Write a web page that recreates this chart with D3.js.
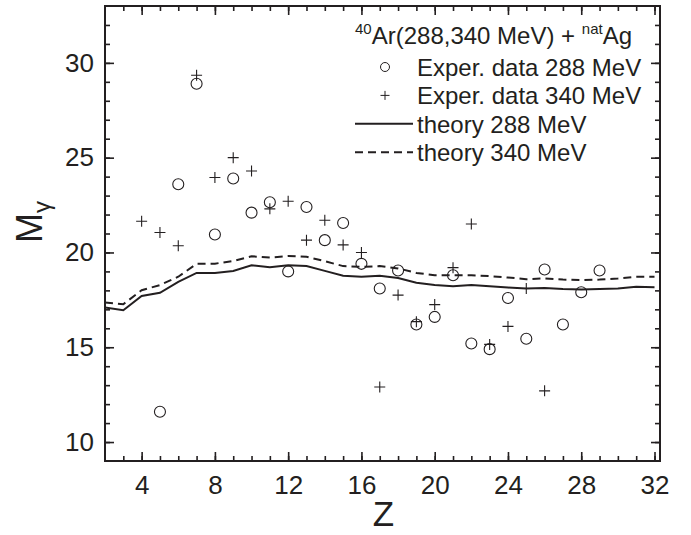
<!DOCTYPE html>
<html>
<head>
<meta charset="utf-8">
<script src="https://cdn.jsdelivr.net/npm/d3@7"></script>
<style>
  html, body { margin: 0; padding: 0; background: #fff; }
  svg { display: block; font-family: Arial, "Liberation Sans", sans-serif; }
</style>
</head>
<body>
<div id="chart"></div>
<script>
// experimental data, 288 MeV (circles)
const z288 = [5, 6, 7, 8, 9, 10, 11, 12, 13, 14, 15, 16, 17, 18, 19, 20, 21, 22, 23, 24, 25, 26, 27, 28, 29];
const m288 = [11.6, 23.6, 28.9, 20.95, 23.9, 22.1, 22.65, 19.0, 22.4, 20.65, 21.55, 19.4, 18.1, 19.05, 16.2, 16.6, 18.8, 15.2, 14.9, 17.6, 15.45, 19.1, 16.2, 17.9, 19.05];

// experimental data, 340 MeV (crosses)
const z340 = [4, 5, 6, 7, 8, 9, 10, 11, 12, 13, 14, 15, 16, 17, 18, 19, 20, 21, 22, 23, 24, 25, 26];
const m340 = [21.65, 21.05, 20.35, 29.35, 23.95, 25.0, 24.3, 22.3, 22.7, 20.65, 21.7, 20.4, 20.0, 12.9, 17.75, 16.35, 17.25, 19.2, 21.5, 15.15, 16.1, 18.1, 12.7];

// theory curves
const zTheory = [2, 3, 4, 5, 6, 7, 8, 9, 10, 11, 12, 13, 14, 15, 16, 17, 18, 19, 20, 21, 22, 23, 24, 25, 26, 27, 28, 29, 30, 31, 32];
const theory288 = [17.1, 16.95, 17.7, 17.87, 18.45, 18.92, 18.92, 19.02, 19.32, 19.22, 19.33, 19.28, 19.03, 18.77, 18.72, 18.77, 18.65, 18.4, 18.28, 18.22, 18.28, 18.22, 18.15, 18.1, 18.13, 18.07, 18.05, 18.07, 18.1, 18.19, 18.16];
const theory340 = [17.36, 17.27, 18.01, 18.28, 18.72, 19.4, 19.41, 19.55, 19.8, 19.73, 19.81, 19.77, 19.54, 19.28, 19.24, 19.28, 19.16, 18.92, 18.8, 18.8, 18.8, 18.75, 18.68, 18.59, 18.63, 18.57, 18.54, 18.57, 18.63, 18.72, 18.72];

const xTicks = [4, 8, 12, 16, 20, 24, 28, 32];
const yTicks = [10, 15, 20, 25, 30];

const width = 691, height = 535;
const margin = { left: 105, right: 31, top: 6, bottom: 74 };
const ink = "#231f20";

const svg = d3.select("#chart")
    .append("svg")
    .attr("width", width)
    .attr("height", height);

const x = d3.scaleLinear().domain([2, 32.3]).range([margin.left, width - margin.right]);
const y = d3.scaleLinear().domain([9, 33]).range([height - margin.bottom, margin.top]);

// clip for the curves
svg.append("clipPath").attr("id", "plotClip")
  .append("rect")
    .attr("x", x.range()[0]).attr("y", y.range()[1])
    .attr("width", x.range()[1] - x.range()[0])
    .attr("height", y.range()[0] - y.range()[1]);

// axes: ticks point inward on all four sides
const xMinor = d3.range(3, 33, 1);
const yMinor = d3.range(10, 33, 1);

function styleAxis(g) {
    g.select(".domain").remove();
    g.selectAll(".tick line").attr("stroke", ink).attr("stroke-width", 1.6);
    g.selectAll("text").attr("fill", ink).style("font-size", "26px");
}

// minor ticks
svg.append("g").attr("transform", `translate(0,${y.range()[0]})`)
    .call(d3.axisBottom(x).tickValues(xMinor).tickSize(-5).tickFormat(""))
    .call(styleAxis);
svg.append("g").attr("transform", `translate(0,${y.range()[1]})`)
    .call(d3.axisTop(x).tickValues(xMinor).tickSize(-5).tickFormat(""))
    .call(styleAxis);
svg.append("g").attr("transform", `translate(${x.range()[0]},0)`)
    .call(d3.axisLeft(y).tickValues(yMinor).tickSize(-5).tickFormat(""))
    .call(styleAxis);
svg.append("g").attr("transform", `translate(${x.range()[1]},0)`)
    .call(d3.axisRight(y).tickValues(yMinor).tickSize(-5).tickFormat(""))
    .call(styleAxis);

// major ticks with labels
svg.append("g").attr("transform", `translate(0,${y.range()[0]})`)
    .call(d3.axisBottom(x).tickValues(xTicks).tickSize(-9).tickPadding(15).tickFormat(d3.format("d")))
    .call(styleAxis);
svg.append("g").attr("transform", `translate(0,${y.range()[1]})`)
    .call(d3.axisTop(x).tickValues(xTicks).tickSize(-9).tickFormat(""))
    .call(styleAxis);
svg.append("g").attr("transform", `translate(${x.range()[0]},0)`)
    .call(d3.axisLeft(y).tickValues(yTicks).tickSize(-9).tickPadding(11).tickFormat(d3.format("d")))
    .call(styleAxis);
svg.append("g").attr("transform", `translate(${x.range()[1]},0)`)
    .call(d3.axisRight(y).tickValues(yTicks).tickSize(-9).tickFormat(""))
    .call(styleAxis);

// frame
svg.append("rect")
    .attr("x", x.range()[0]).attr("y", y.range()[1])
    .attr("width", x.range()[1] - x.range()[0])
    .attr("height", y.range()[0] - y.range()[1])
    .attr("fill", "none")
    .attr("stroke", ink)
    .attr("stroke-width", 2);

// theory curves
const line = d3.line().x(d => x(d[0])).y(d => y(d[1]));

svg.append("path")
    .datum(d3.zip(zTheory, theory288))
    .attr("clip-path", "url(#plotClip)")
    .attr("d", line)
    .attr("fill", "none")
    .attr("stroke", ink)
    .attr("stroke-width", 2);

svg.append("path")
    .datum(d3.zip(zTheory, theory340))
    .attr("clip-path", "url(#plotClip)")
    .attr("d", line)
    .attr("fill", "none")
    .attr("stroke", ink)
    .attr("stroke-width", 2)
    .attr("stroke-dasharray", "8,5");

// experimental points
svg.append("g")
    .selectAll("circle")
    .data(d3.zip(z288, m288))
    .join("circle")
    .attr("cx", d => x(d[0]))
    .attr("cy", d => y(d[1]))
    .attr("r", 5.5)
    .attr("fill", "none")
    .attr("stroke", ink)
    .attr("stroke-width", 1.1);

function plusPath(h) {
    return `M${-h},0H${h}M0,${-h}V${h}`;
}

svg.append("g")
    .selectAll("path")
    .data(d3.zip(z340, m340))
    .join("path")
    .attr("transform", d => `translate(${x(d[0])},${y(d[1])})`)
    .attr("d", plusPath(5.5))
    .attr("fill", "none")
    .attr("stroke", ink)
    .attr("stroke-width", 1.1);

// axis titles
svg.append("text")
    .attr("x", x(17.2))
    .attr("y", 526)
    .attr("text-anchor", "middle")
    .attr("fill", ink)
    .style("font-size", "35px")
    .text("Z");

const yTitle = svg.append("text")
    .attr("transform", "translate(42,222) rotate(-90)")
    .attr("text-anchor", "middle")
    .attr("fill", ink)
    .style("font-size", "36px");
yTitle.append("tspan").text("M");
yTitle.append("tspan").attr("dy", 8).style("font-size", "24px").text("γ");

// legend
const legend = svg.append("g").attr("fill", ink);

const title = legend.append("text")
    .attr("x", 355)
    .attr("y", 44)
    .style("font-size", "24px");
title.append("tspan").attr("dy", -10).style("font-size", "15px").text("40");
title.append("tspan").attr("dy", 10).text("Ar(288,340 MeV) + ");
title.append("tspan").attr("dy", -10).style("font-size", "15px").text("nat");
title.append("tspan").attr("dy", 10).text("Ag");

const legendRows = [
    { label: "Exper. data 288 MeV", type: "circle" },
    { label: "Exper. data 340 MeV", type: "cross" },
    { label: "theory 288 MeV", type: "solid" },
    { label: "theory 340 MeV", type: "dashed" }
];

const row = legend.selectAll("g.row")
    .data(legendRows)
    .join("g")
    .attr("class", "row")
    .attr("transform", (d, i) => `translate(0,${67 + i * 28.4})`);

row.filter(d => d.type === "circle")
    .append("circle")
    .attr("cx", 385).attr("cy", 0).attr("r", 4.5)
    .attr("fill", "none").attr("stroke", ink).attr("stroke-width", 1);

row.filter(d => d.type === "cross")
    .append("path")
    .attr("transform", "translate(385,0)")
    .attr("d", plusPath(4.5))
    .attr("fill", "none").attr("stroke", ink).attr("stroke-width", 1);

row.filter(d => d.type === "solid" || d.type === "dashed")
    .append("line")
    .attr("x1", 355).attr("x2", 413).attr("y1", 0).attr("y2", 0)
    .attr("stroke", ink).attr("stroke-width", 2)
    .attr("stroke-dasharray", d => d.type === "dashed" ? "8,5" : null);

row.append("text")
    .attr("x", 417)
    .attr("y", 9)
    .style("font-size", "24px")
    .text(d => d.label);
</script>
</body>
</html>
